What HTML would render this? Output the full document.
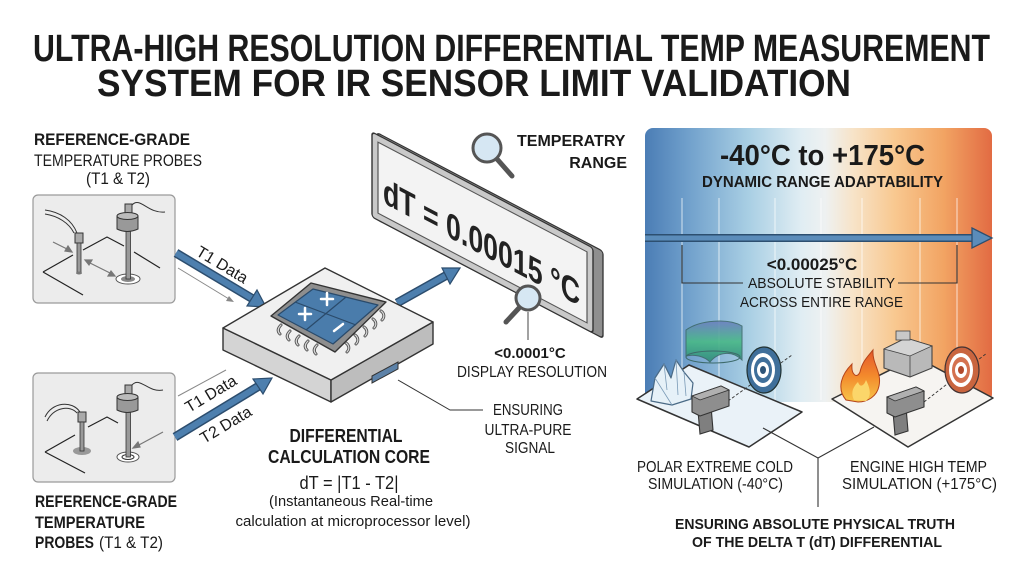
<!DOCTYPE html>
<html><head><meta charset="utf-8">
<style>
html,body{margin:0;padding:0;background:#fff;}
svg{display:block;}
text{font-family:"Liberation Sans",Arial,sans-serif;fill:#1a1a1a;}
.b{font-weight:bold;}
</style></head><body>
<svg width="1024" height="572" viewBox="0 0 1024 572" xmlns="http://www.w3.org/2000/svg">
<defs>
<linearGradient id="rg" x1="0" y1="0" x2="1" y2="0">
<stop offset="0" stop-color="#4b7db5"/>
<stop offset="0.12" stop-color="#6f9fcb"/>
<stop offset="0.3" stop-color="#a9cfe4"/>
<stop offset="0.45" stop-color="#e0edf3"/>
<stop offset="0.52" stop-color="#eef1f1"/>
<stop offset="0.6" stop-color="#f7e3c8"/>
<stop offset="0.72" stop-color="#f8c890"/>
<stop offset="0.86" stop-color="#f2a463"/>
<stop offset="1" stop-color="#e26b43"/>
</linearGradient>
<linearGradient id="aur" x1="0" y1="0" x2="0" y2="1">
<stop offset="0" stop-color="#6c7fc0"/>
<stop offset="0.5" stop-color="#49b987"/>
<stop offset="1" stop-color="#2f8a7a"/>
</linearGradient>
<linearGradient id="fire" x1="0" y1="1" x2="0" y2="0">
<stop offset="0" stop-color="#f7c64a"/>
<stop offset="0.5" stop-color="#f38a2c"/>
<stop offset="1" stop-color="#e4572a"/>
</linearGradient>
</defs>

<!-- TITLE -->
<text class="b" x="33" y="61" font-size="38" textLength="957" lengthAdjust="spacingAndGlyphs">ULTRA-HIGH RESOLUTION DIFFERENTIAL TEMP MEASUREMENT</text>
<text class="b" x="97" y="96" font-size="38" textLength="754" lengthAdjust="spacingAndGlyphs">SYSTEM FOR IR SENSOR LIMIT VALIDATION</text>

<!-- LEFT TOP LABELS -->
<text class="b" x="34" y="145" font-size="17" textLength="156" lengthAdjust="spacingAndGlyphs">REFERENCE-GRADE</text>
<text x="34" y="166" font-size="17" textLength="168" lengthAdjust="spacingAndGlyphs">TEMPERATURE PROBES</text>
<text x="86" y="184" font-size="17" textLength="64" lengthAdjust="spacingAndGlyphs">(T1 &amp; T2)</text>

<!-- PROBE BOX 1 -->
<rect x="33" y="195" width="142" height="108" rx="5" fill="#ececec" stroke="#9a9a9a" stroke-width="1.2"/>
<g stroke="#222" stroke-width="1.2" fill="none">
<path d="M43 272 L73 255"/><path d="M83 250 L107 237 L124 246"/><path d="M134 252 L160 268"/>
<path d="M43 272 L83 295"/>
</g>
<path d="M45 210 C60 212 72 220 77 233" stroke="#333" stroke-width="1" fill="none"/>
<path d="M45 214 C58 216 69 223 74 233" stroke="#333" stroke-width="1" fill="none"/>
<rect x="75" y="233" width="8" height="10" fill="#aaa" stroke="#333"/>
<rect x="77" y="243" width="4" height="30" fill="#999" stroke="#333" stroke-width="0.8"/>
<ellipse cx="79" cy="273" rx="3" ry="1.5" fill="#777"/>
<path d="M132 205 C140 196 148 214 165 212" stroke="#333" stroke-width="1" fill="none"/>
<rect x="125" y="204" width="7" height="11" fill="#aaa" stroke="#333"/>
<ellipse cx="128" cy="279" rx="12" ry="5" fill="#fff" stroke="#555"/>
<ellipse cx="128" cy="279" rx="7" ry="3" fill="#888"/>
<rect x="126" y="230" width="4.5" height="49" fill="#999" stroke="#333" stroke-width="0.8"/>
<path d="M117 216 L117 229 Q127 234 138 229 L138 216 Z" fill="#999" stroke="#333"/>
<ellipse cx="127.5" cy="216" rx="10.5" ry="3.5" fill="#bbb" stroke="#333"/>
<g stroke="#777" stroke-width="1.2" fill="#777">
<line x1="53" y1="242" x2="69" y2="250"/><path d="M72 252 L65 251 L68 246 Z"/>
<line x1="88" y1="262" x2="112" y2="274"/><path d="M85 260 L92 260 L89 265 Z"/><path d="M115 276 L108 276 L111 271 Z"/>
</g>

<!-- PROBE BOX 2 -->
<rect x="33" y="373" width="142" height="109" rx="5" fill="#ececec" stroke="#9a9a9a" stroke-width="1.2"/>
<g stroke="#222" stroke-width="1.2" fill="none">
<path d="M88 427 L107 417 L118 423"/><path d="M45 452 L75 435"/><path d="M45 452 L85 473"/>
</g>
<path d="M45 417 C52 402 72 400 80 412" stroke="#333" stroke-width="1" fill="none"/>
<path d="M47 421 C54 407 70 405 77 413" stroke="#333" stroke-width="1" fill="none"/>
<ellipse cx="82" cy="451" rx="9" ry="4" fill="#999"/>
<rect x="78" y="412" width="8" height="10" fill="#aaa" stroke="#333"/>
<rect x="80" y="422" width="4" height="29" fill="#999" stroke="#333" stroke-width="0.8"/>
<path d="M132 385 C140 376 148 393 163 390" stroke="#333" stroke-width="1" fill="none"/>
<rect x="125" y="385" width="7" height="10" fill="#aaa" stroke="#333"/>
<ellipse cx="128" cy="457" rx="11" ry="5" fill="#fff" stroke="#555"/>
<ellipse cx="128" cy="457" rx="6" ry="2.5" fill="#fff" stroke="#333"/>
<rect x="126" y="410" width="4.5" height="47" fill="#999" stroke="#333" stroke-width="0.8"/>
<path d="M117 397 L117 410 Q127 415 138 410 L138 397 Z" fill="#999" stroke="#333"/>
<ellipse cx="127.5" cy="397" rx="10.5" ry="3.5" fill="#bbb" stroke="#333"/>
<g stroke="#777" stroke-width="1.2" fill="#777">
<line x1="163" y1="432" x2="137" y2="446"/><path d="M133 448 L138 442 L140 447 Z"/>
</g>

<!-- LOWER LEFT LABELS -->
<text class="b" x="35" y="507" font-size="17" textLength="142" lengthAdjust="spacingAndGlyphs">REFERENCE-GRADE</text>
<text class="b" x="35" y="528" font-size="17" textLength="110" lengthAdjust="spacingAndGlyphs">TEMPERATURE</text>
<text class="b" x="35" y="548" font-size="17" textLength="59" lengthAdjust="spacingAndGlyphs">PROBES</text>
<text x="99" y="548" font-size="17" textLength="64" lengthAdjust="spacingAndGlyphs">(T1 &amp; T2)</text>

<!-- ARROWS IN -->
<g>
<line x1="176" y1="253" x2="253" y2="299" stroke="#2c4d6e" stroke-width="9"/>
<line x1="176" y1="253" x2="253" y2="299" stroke="#4d7fae" stroke-width="6"/>
<polygon points="266,307 247,306 257,290" fill="#4d7fae" stroke="#2c4d6e" stroke-width="1.2"/>
<line x1="178" y1="268" x2="229" y2="299" stroke="#888" stroke-width="1"/>
<polygon points="234,302 226,301 229,296" fill="#888"/>
<text x="0" y="5" font-size="16" text-anchor="middle" transform="translate(222,265) rotate(31)">T1 Data</text>

<line x1="175" y1="437" x2="259" y2="386" stroke="#2c4d6e" stroke-width="9"/>
<line x1="175" y1="437" x2="259" y2="386" stroke="#4d7fae" stroke-width="6"/>
<polygon points="272,378 263,394 253,379" fill="#4d7fae" stroke="#2c4d6e" stroke-width="1.2"/>
<line x1="178" y1="396" x2="226" y2="370" stroke="#888" stroke-width="1"/>
<text x="0" y="5" font-size="16" text-anchor="middle" transform="translate(211,394) rotate(-31)">T1 Data</text>
<text x="0" y="5" font-size="16" text-anchor="middle" transform="translate(226,425) rotate(-31)">T2 Data</text>
</g>

<!-- OUTPUT ARROW -->
<line x1="397" y1="303" x2="447" y2="275" stroke="#2c4d6e" stroke-width="9"/>
<line x1="397" y1="303" x2="447" y2="275" stroke="#4d7fae" stroke-width="6"/>
<polygon points="460,268 450,284 442,268" fill="#4d7fae" stroke="#2c4d6e" stroke-width="1.2"/>

<!-- PLATFORM -->
<g stroke="#333" stroke-width="1.4" stroke-linejoin="round">
<polygon points="223,328 331,380 331,402 223,350" fill="#d4d4d4"/>
<polygon points="331,380 433,322 433,344 331,402" fill="#bdbdbd"/>
<polygon points="223,328 325,268 433,322 331,380" fill="#f0f0f0"/>
</g>
<polygon points="372,376 398,362 398,369 372,383" fill="#5d82a8" stroke="#333" stroke-width="1"/>

<!-- CHIP pins -->
<g fill="none" stroke="#555" stroke-width="3" stroke-linecap="round">
<path d="M281 325 c-3 3 -4 6 -1 9"/><path d="M290 331 c-3 3 -4 6 -1 9"/><path d="M299 336 c-3 3 -4 6 -1 9"/><path d="M308 341 c-3 3 -4 6 -1 9"/><path d="M317 345 c-3 3 -4 6 -1 9"/>
<path d="M346 343 c3 2 4 6 1 9"/><path d="M355 335 c3 2 4 6 1 9"/><path d="M364 327 c3 2 4 6 1 9"/><path d="M373 319 c3 2 4 6 1 9"/><path d="M381 311 c3 2 4 6 1 9"/>
</g>
<g fill="none" stroke="#d8d8d8" stroke-width="1.2" stroke-linecap="round">
<path d="M281 325 c-3 3 -4 6 -1 9"/><path d="M290 331 c-3 3 -4 6 -1 9"/><path d="M299 336 c-3 3 -4 6 -1 9"/><path d="M308 341 c-3 3 -4 6 -1 9"/><path d="M317 345 c-3 3 -4 6 -1 9"/>
<path d="M346 343 c3 2 4 6 1 9"/><path d="M355 335 c3 2 4 6 1 9"/><path d="M364 327 c3 2 4 6 1 9"/><path d="M373 319 c3 2 4 6 1 9"/><path d="M381 311 c3 2 4 6 1 9"/>
</g>
<polygon points="271,316 311,283 386,302 335,352" fill="#8e8e8e" stroke="#333" stroke-width="1.4" stroke-linejoin="round"/>
<polygon points="278,315 313,289 378,305 333,344" fill="#4a7cab" stroke="#2a4a6a" stroke-width="1.2" stroke-linejoin="round"/>
<line x1="295" y1="302" x2="356" y2="325" stroke="#2a4a6a" stroke-width="1.2"/>
<line x1="346" y1="297" x2="306" y2="330" stroke="#2a4a6a" stroke-width="1.2"/>
<g stroke="#fff" stroke-width="2.5" stroke-linecap="round">
<line x1="321" y1="299" x2="333" y2="299"/><line x1="327" y1="293" x2="327" y2="305"/>
<line x1="299" y1="314" x2="311" y2="314"/><line x1="305" y1="308" x2="305" y2="320"/>
<line x1="334" y1="331" x2="343" y2="324"/>
</g>

<!-- DISPLAY PANEL -->
<g transform="translate(372,132) skewY(27.7)">
<rect x="5" y="-2" width="226" height="87" rx="3" fill="#8f8f8f" stroke="#333" stroke-width="1.3"/>
<rect x="0" y="0" width="221" height="85" rx="3" fill="#c9c9c9" stroke="#333" stroke-width="1.4"/>
<rect x="6" y="7" width="209" height="71" fill="#f3f3f3" stroke="#555" stroke-width="1.2"/>
<text x="11" y="65" font-size="36" font-weight="bold" textLength="197" lengthAdjust="spacingAndGlyphs" style="fill:#222">dT = 0.00015 °C</text>
</g>

<!-- magnifier top -->
<line x1="497" y1="159" x2="512" y2="176" stroke="#555" stroke-width="5" stroke-linecap="round"/>
<circle cx="487" cy="148" r="14" fill="#d6e7f3" stroke="#555" stroke-width="3"/>
<text class="b" x="517" y="146" font-size="16">TEMPERATRY</text>
<text class="b" x="627" y="168" font-size="16" text-anchor="end">RANGE</text>

<!-- magnifier lower -->
<line x1="519" y1="308" x2="506" y2="322" stroke="#555" stroke-width="5" stroke-linecap="round"/>
<circle cx="528" cy="298" r="12" fill="#d6e7f3" stroke="#555" stroke-width="3"/>
<line x1="528" y1="312" x2="528" y2="340" stroke="#444" stroke-width="1"/>
<text class="b" x="530" y="358" font-size="15" text-anchor="middle">&lt;0.0001°C</text>
<text x="457" y="377" font-size="16" textLength="150" lengthAdjust="spacingAndGlyphs">DISPLAY RESOLUTION</text>

<!-- ensuring signal -->
<polyline points="398,380 450,410 483,410" fill="none" stroke="#333" stroke-width="1"/>
<text x="528" y="415" font-size="16" text-anchor="middle" textLength="70" lengthAdjust="spacingAndGlyphs">ENSURING</text>
<text x="528" y="435" font-size="16" text-anchor="middle" textLength="87" lengthAdjust="spacingAndGlyphs">ULTRA-PURE</text>
<text x="530" y="453" font-size="16" text-anchor="middle" textLength="50" lengthAdjust="spacingAndGlyphs">SIGNAL</text>

<!-- center bottom text -->
<text class="b" x="346" y="442" font-size="18" text-anchor="middle" textLength="113" lengthAdjust="spacingAndGlyphs">DIFFERENTIAL</text>
<text class="b" x="349" y="463" font-size="18" text-anchor="middle" textLength="162" lengthAdjust="spacingAndGlyphs">CALCULATION CORE</text>
<text x="349" y="489" font-size="18" text-anchor="middle" textLength="99" lengthAdjust="spacingAndGlyphs">dT = |T1 - T2|</text>
<text x="351" y="506" font-size="15" text-anchor="middle" textLength="164" lengthAdjust="spacingAndGlyphs">(Instantaneous Real-time</text>
<text x="353" y="526" font-size="15" text-anchor="middle" textLength="235" lengthAdjust="spacingAndGlyphs">calculation at microprocessor level)</text>

<!-- RIGHT GRADIENT PANEL -->
<rect x="645" y="128" width="347" height="274" rx="8" fill="url(#rg)"/>
<g stroke="#fff" stroke-opacity="0.6" stroke-width="1.2">
<line x1="682" y1="198" x2="682" y2="400"/><line x1="719" y1="198" x2="719" y2="400"/><line x1="775" y1="198" x2="775" y2="400"/>
<line x1="821" y1="198" x2="821" y2="400"/><line x1="862" y1="198" x2="862" y2="400"/><line x1="920" y1="198" x2="920" y2="400"/><line x1="957" y1="198" x2="957" y2="400"/>
</g>
<text class="b" x="720" y="165" font-size="29" textLength="205" lengthAdjust="spacingAndGlyphs">-40°C to +175°C</text>
<text class="b" x="702" y="187" font-size="16" textLength="241" lengthAdjust="spacingAndGlyphs">DYNAMIC RANGE ADAPTABILITY</text>

<line x1="645" y1="238" x2="975" y2="238" stroke="#2d4f70" stroke-width="8"/>
<line x1="645" y1="238" x2="975" y2="238" stroke="#5b8cba" stroke-width="5"/>
<polygon points="972,228 992,238 972,248" fill="#5b8cba" stroke="#2d4f70" stroke-width="1.3"/>

<polyline points="682,245 682,283 743,283" fill="none" stroke="#333" stroke-width="1.1"/>
<polyline points="957,245 957,283 898,283" fill="none" stroke="#333" stroke-width="1.1"/>
<text class="b" x="812" y="270" font-size="17" text-anchor="middle">&lt;0.00025°C</text>
<text x="748" y="288" font-size="15" textLength="147" lengthAdjust="spacingAndGlyphs">ABSOLUTE STABILITY</text>
<text x="740" y="307" font-size="15" textLength="163" lengthAdjust="spacingAndGlyphs">ACROSS ENTIRE RANGE</text>

<!-- LEFT PLATFORM -->
<polygon points="637,399 689,365 802,412 749,447" fill="#eaf2f8" stroke="#333" stroke-width="1.5" stroke-linejoin="round"/>
<path d="M686 330 C700 320 728 318 742 326 L742 360 C732 350 718 352 710 362 C704 356 694 354 686 356 Z" fill="url(#aur)" stroke="#3d6a6a" stroke-width="1" opacity="0.9"/>
<ellipse cx="713" cy="357" rx="27" ry="6" fill="none" stroke="#3d6a6a" stroke-width="1"/>
<polygon points="651,401 655,378 664,364 671,378 676,360 684,372 693,383 691,399 672,405" fill="#e6f1f8" stroke="#4a6a86" stroke-width="1.2" stroke-linejoin="round"/>
<path d="M664 364 L667 390 M676 360 L678 395 M655 378 L672 405 M684 372 L686 396" stroke="#7a9ab6" stroke-width="0.8" fill="none"/>
<line x1="728" y1="401" x2="792" y2="355" stroke="#333" stroke-width="0.9" stroke-dasharray="3,2"/>
<ellipse cx="764" cy="370" rx="17" ry="23" fill="#3f6f9a" stroke="#233" stroke-width="1.2"/>
<ellipse cx="763" cy="370" rx="12" ry="17" fill="#fff"/>
<ellipse cx="763" cy="370" rx="9" ry="13" fill="#3f6f9a"/>
<ellipse cx="763" cy="370" rx="6" ry="8" fill="#fff"/>
<ellipse cx="763" cy="370" rx="3" ry="4" fill="#2d5478"/>
<polygon points="698,411 711,406 713,430 700,434" fill="#7f7f7f" stroke="#333" stroke-width="1.1"/>
<polygon points="692,396 721,386 729,390 729,406 700,416 692,412" fill="#8e8e8e" stroke="#333" stroke-width="1.1" stroke-linejoin="round"/>
<polygon points="692,396 721,386 729,390 700,400" fill="#b0b0b0" stroke="#333" stroke-width="0.8"/>

<!-- RIGHT PLATFORM -->
<polygon points="832,399 916,357 993,398 908,447" fill="#f6f4f1" stroke="#333" stroke-width="1.5" stroke-linejoin="round"/>
<path d="M846 400 C836 388 842 374 852 364 C851 375 857 379 860 372 C862 362 868 356 873 350 C872 364 882 372 879 386 C877 396 868 402 858 402 Z" fill="url(#fire)" stroke="#b5441a" stroke-width="1"/>
<path d="M854 400 C850 392 854 386 858 382 C860 388 864 386 866 380 C870 388 872 396 866 401 Z" fill="#fbd66a"/>
<polygon points="884,349 906,338 932,346 932,368 910,377 884,368" fill="#b9b9b9" stroke="#444" stroke-width="1.1" stroke-linejoin="round"/>
<polygon points="884,349 906,338 932,346 910,356" fill="#d4d4d4" stroke="#444" stroke-width="0.8"/>
<rect x="896" y="331" width="14" height="9" fill="#c8c8c8" stroke="#444" stroke-width="0.8"/>
<line x1="910" y1="356" x2="910" y2="377" stroke="#444" stroke-width="0.8"/>
<line x1="924" y1="402" x2="987" y2="353" stroke="#333" stroke-width="0.9" stroke-dasharray="3,2"/>
<ellipse cx="962" cy="370" rx="17" ry="23" fill="#c9653f" stroke="#433" stroke-width="1.2"/>
<ellipse cx="961" cy="370" rx="12" ry="17" fill="#fff"/>
<ellipse cx="961" cy="370" rx="9" ry="13" fill="#d47250"/>
<ellipse cx="961" cy="370" rx="6" ry="8" fill="#fff"/>
<ellipse cx="961" cy="370" rx="3" ry="4" fill="#b24a2c"/>
<polygon points="893,412 906,407 908,431 895,435" fill="#7f7f7f" stroke="#333" stroke-width="1.1"/>
<polygon points="887,397 916,387 924,391 924,407 895,417 887,413" fill="#8e8e8e" stroke="#333" stroke-width="1.1" stroke-linejoin="round"/>
<polygon points="887,397 916,387 924,391 895,401" fill="#b0b0b0" stroke="#333" stroke-width="0.8"/>

<!-- connectors -->
<polyline points="763,428 818,458 874,427" fill="none" stroke="#333" stroke-width="1.1"/>
<line x1="818" y1="458" x2="818" y2="507" stroke="#333" stroke-width="1.1"/>

<text x="637" y="472" font-size="16" textLength="156" lengthAdjust="spacingAndGlyphs">POLAR EXTREME COLD</text>
<text x="648" y="489" font-size="16" textLength="135" lengthAdjust="spacingAndGlyphs">SIMULATION (-40°C)</text>
<text x="850" y="472" font-size="16" textLength="137" lengthAdjust="spacingAndGlyphs">ENGINE HIGH TEMP</text>
<text x="842" y="489" font-size="16" textLength="155" lengthAdjust="spacingAndGlyphs">SIMULATION (+175°C)</text>

<text class="b" x="675" y="529" font-size="15" textLength="280" lengthAdjust="spacingAndGlyphs">ENSURING ABSOLUTE PHYSICAL TRUTH</text>
<text class="b" x="692" y="547" font-size="15" textLength="250" lengthAdjust="spacingAndGlyphs">OF THE DELTA T (dT) DIFFERENTIAL</text>
</svg>
</body></html>
